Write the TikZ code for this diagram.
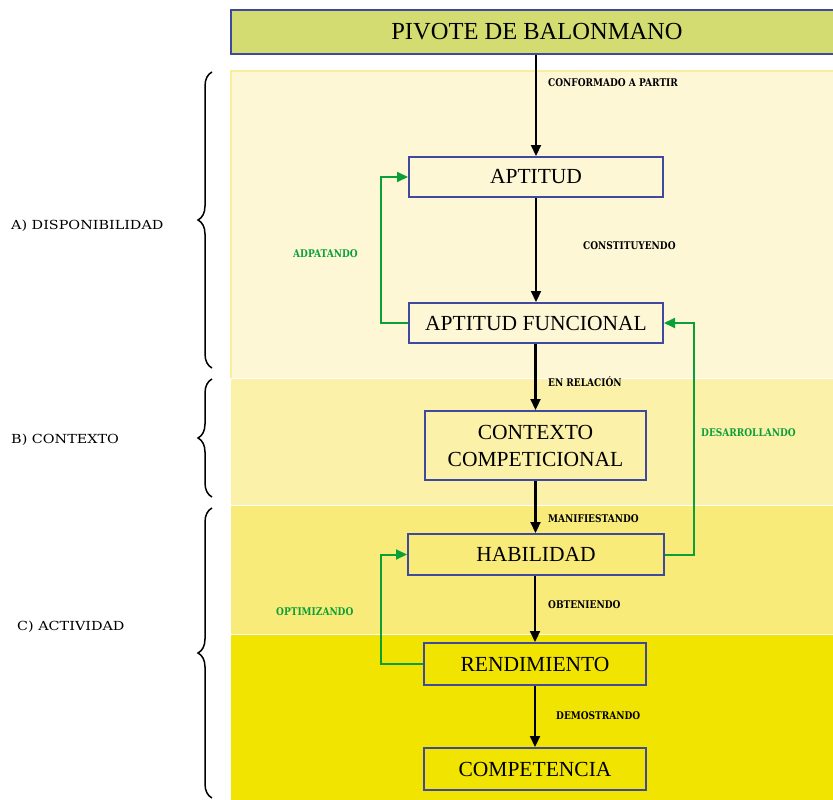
\documentclass[tikz,border=0pt]{standalone}
\usepackage{fontspec}
\setmainfont{Liberation Serif}
\newfontfamily\verbfont[FakeStretch=0.85]{DejaVu Serif}
\newfontfamily\phasefont[FakeStretch=1.15]{DejaVu Serif}
\usetikzlibrary{arrows.meta,decorations.pathreplacing}

\definecolor{topfill}{HTML}{D3DC70}
\definecolor{boxedge}{HTML}{3F4A9E}
\definecolor{bandA}{HTML}{FDF7D6}
\definecolor{bandAedge}{HTML}{F8EE9E}
\definecolor{bandB}{HTML}{FBF1A8}
\definecolor{bandC}{HTML}{F8EB79}
\definecolor{bandD}{HTML}{F1E401}
\definecolor{loopgreen}{RGB}{10,160,55}

\tikzset{
  stage/.style={draw=boxedge, line width=2pt, inner sep=0pt,
    font=\fontsize{21.5}{27}\selectfont, align=center},
  headbox/.style={stage, fill=topfill, font=\fontsize{24.5}{28}\selectfont},
  flow/.style={line width=2.2pt, -{Triangle[length=11pt,width=10pt]}},
  loop/.style={flow, draw=loopgreen, line width=2pt},
  verb/.style={font=\verbfont\bfseries\fontsize{10.6}{12}\selectfont, anchor=west, inner sep=0pt},
  greenverb/.style={verb, text=loopgreen},
  phase/.style={font=\phasefont\fontsize{12.5}{14}\selectfont, anchor=west, inner sep=0pt},
  bracket/.style={decorate, decoration={brace, amplitude=14pt}, line width=1.5pt}
}

\begin{document}
\begin{tikzpicture}[x=1pt,y=-1pt]
\useasboundingbox (0,0) rectangle (833,800);

% coloured bands behind the flow
\fill[bandA] (231,71) rectangle (840,378);
\draw[bandAedge, line width=1.5pt] (840,71) -- (231,71) -- (231,378);
\fill[bandB] (231,379) rectangle (840,505);
\fill[bandC] (231,506) rectangle (840,634);
\fill[bandD] (231,635) rectangle (840,805);

% header
\node[headbox, minimum width=612pt, minimum height=44pt] (top) at (537,32) {PIVOTE DE BALONMANO};

% stages
\node[stage, minimum width=254pt, minimum height=40pt] (apt) at (536,177) {APTITUD};
\node[stage, minimum width=254pt, minimum height=40pt] (aptf) at (536,323) {APTITUD FUNCIONAL};
\node[stage, minimum width=221pt, minimum height=69pt] (ctx) at (535.5,445.5) {CONTEXTO\\COMPETICIONAL};
\node[stage, minimum width=256pt, minimum height=41pt] (hab) at (536,554.5) {HABILIDAD};
\node[stage, minimum width=222pt, minimum height=42pt] (ren) at (535,664) {RENDIMIENTO};
\node[stage, minimum width=222pt, minimum height=42pt] (comp) at (535,769) {COMPETENCIA};

% main flow
\draw[flow] (top.south -| apt.north) -- (apt.north);
\draw[flow] (apt) -- (aptf);
\draw[flow] (aptf.south -| ctx.north) -- (ctx.north);
\draw[flow] (ctx.south) -- (ctx.south |- hab.north);
\draw[flow] (hab.south -| ren.north) -- (ren.north);
\draw[flow] (ren) -- (comp);

\node[verb] (l1) at (548,83) {CONFORMADO A PARTIR};
\node[verb] (l2) at (583,246) {CONSTITUYENDO};
\node[verb] (l3) at (548,382) {EN RELACIÓN};
\node[verb] (l4) at (548,519) {MANIFIESTANDO};
\node[verb] (l5) at (548,605) {OBTENIENDO};
\node[verb] (l6) at (556,716) {DEMOSTRANDO};

% feedback loops
\coordinate (a1) at (381,323);
\coordinate (a2) at (381,177);
\draw[loop] (aptf.west) -- (a1) -- (a2) -- (apt.west);
\coordinate (d1) at (694,554.5);
\coordinate (d2) at (694,323);
\draw[loop] (hab.east) -- (d1) -- (d2) -- (aptf.east);
\coordinate (o1) at (381,664);
\coordinate (o2) at (381,554.5);
\draw[loop] (ren.west) -- (o1) -- (o2) -- (hab.west);

\node[greenverb] (g1) at (293,254) {ADPATANDO};
\node[greenverb] (g2) at (701,433) {DESARROLLANDO};
\node[greenverb] (g3) at (276,612) {OPTIMIZANDO};

% phase brackets
\coordinate (ba1) at (212,368);
\coordinate (ba2) at (212,72);
\coordinate (bb1) at (212,497);
\coordinate (bb2) at (212,379);
\coordinate (bc1) at (212,798);
\coordinate (bc2) at (212,508);
\draw[bracket] (ba1) -- (ba2);
\draw[bracket] (bb1) -- (bb2);
\draw[bracket] (bc1) -- (bc2);

\node[phase] (pa) at (11,226) {A) DISPONIBILIDAD};
\node[phase] (pb) at (11,440) {B) CONTEXTO};
\node[phase] (pc) at (17,627) {C) ACTIVIDAD};
\end{tikzpicture}
\end{document}
